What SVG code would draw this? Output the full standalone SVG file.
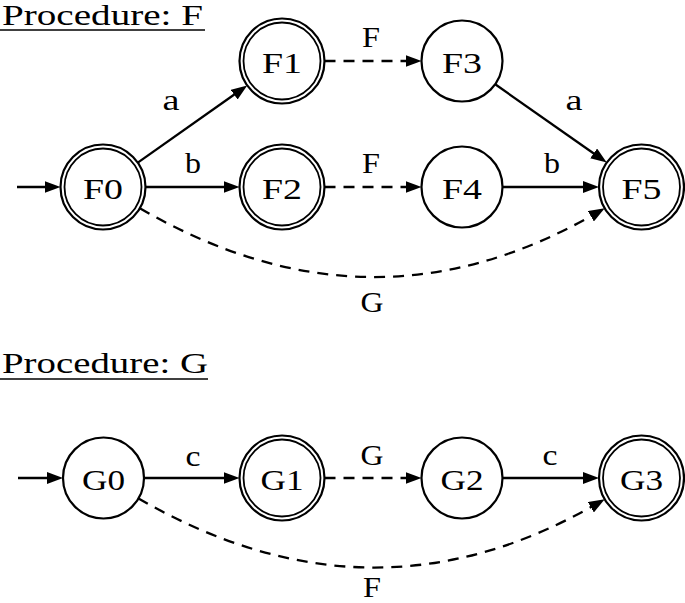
<svg xmlns="http://www.w3.org/2000/svg" width="685" height="603" viewBox="0 0 685 603">
<defs>
<marker id="ah" markerUnits="userSpaceOnUse" markerWidth="16" markerHeight="12" viewBox="0 0 16 12" refX="8" refY="6" orient="auto"><path d="M0,0 L16,6 L0,12 z" fill="#000" stroke="none"/></marker>
<style>
.t{font-family:"Liberation Serif","DejaVu Serif",serif;font-size:29px;fill:#000;text-anchor:middle}
.title{text-anchor:start}
.c{fill:#fff;stroke:#000;stroke-width:2.2}
.d{fill:none;stroke:#000;stroke-width:1.8}
.e{fill:none;stroke:#000;stroke-width:2.3;marker-end:url(#ah)}
.dash{stroke-dasharray:11 8}
.ul{stroke:#000;stroke-width:1.6}
</style>
</defs>
<rect width="685" height="603" fill="#fff"/>

<g id="title-F">
<text class="t title" x="2" y="25" textLength="201" lengthAdjust="spacingAndGlyphs">Procedure: F</text>
<line class="ul" x1="0" y1="30" x2="205" y2="30"/>
</g>
<g id="title-G">
<text class="t title" x="2" y="373" textLength="206" lengthAdjust="spacingAndGlyphs">Procedure: G</text>
<line class="ul" x1="0" y1="379" x2="208" y2="379"/>
</g>

<g id="connectors">
<line class="e" x1="17" y1="187" x2="52.5" y2="187"/>
<line class="e" x1="137.8" y1="162.6" x2="240.7" y2="90"/>
<line class="e" x1="145.5" y1="187" x2="231.5" y2="187"/>
<line class="e dash" x1="324.5" y1="61" x2="413.5" y2="61"/>
<line class="e dash" x1="324.5" y1="187" x2="413.5" y2="187"/>
<line class="e" x1="495.2" y1="84.3" x2="600.2" y2="158"/>
<line class="e" x1="502.5" y1="187" x2="591" y2="187"/>
<path class="e dash" d="M139.8,208.25 C294,297.25 443.6,301.25 597.8,212.3"/>

<line class="e" x1="18" y1="478" x2="55" y2="478"/>
<line class="e" x1="144" y1="478" x2="231.5" y2="478"/>
<line class="e dash" x1="324.5" y1="478" x2="413.5" y2="478"/>
<line class="e" x1="502.5" y1="478" x2="591" y2="478"/>
<path class="e dash" d="M138.1,498.25 C292.3,587.25 443.6,592.25 597.8,503.25"/>
</g>

<g id="edge-labels">
<text class="t" x="171" y="110" textLength="17" lengthAdjust="spacingAndGlyphs">a</text>
<text class="t" x="193" y="173" textLength="16" lengthAdjust="spacingAndGlyphs">b</text>
<text class="t" x="371" y="47" textLength="18" lengthAdjust="spacingAndGlyphs">F</text>
<text class="t" x="371" y="173" textLength="18" lengthAdjust="spacingAndGlyphs">F</text>
<text class="t" x="574" y="110" textLength="17" lengthAdjust="spacingAndGlyphs">a</text>
<text class="t" x="552" y="173" textLength="16" lengthAdjust="spacingAndGlyphs">b</text>
<text class="t" x="372" y="312" textLength="23" lengthAdjust="spacingAndGlyphs">G</text>
<text class="t" x="193" y="466" textLength="15" lengthAdjust="spacingAndGlyphs">c</text>
<text class="t" x="372" y="465" textLength="23" lengthAdjust="spacingAndGlyphs">G</text>
<text class="t" x="550" y="465" textLength="15" lengthAdjust="spacingAndGlyphs">c</text>
<text class="t" x="372" y="597" textLength="18" lengthAdjust="spacingAndGlyphs">F</text>
</g>

<g id="F0"><circle class="c" cx="103" cy="187" r="42.5"/><circle class="d" cx="103" cy="187" r="38.5"/><text class="t" x="103" y="198.5" textLength="40" lengthAdjust="spacingAndGlyphs">F0</text></g>
<g id="F1"><circle class="c" cx="282" cy="61" r="42.5"/><circle class="d" cx="282" cy="61" r="38.5"/><text class="t" x="282" y="72.5" textLength="40" lengthAdjust="spacingAndGlyphs">F1</text></g>
<g id="F2"><circle class="c" cx="282" cy="187" r="42.5"/><circle class="d" cx="282" cy="187" r="38.5"/><text class="t" x="282" y="198.5" textLength="40" lengthAdjust="spacingAndGlyphs">F2</text></g>
<g id="F3"><circle class="c" cx="462" cy="61" r="40.5"/><text class="t" x="462" y="72.5" textLength="40" lengthAdjust="spacingAndGlyphs">F3</text></g>
<g id="F4"><circle class="c" cx="462" cy="187" r="40.5"/><text class="t" x="462" y="198.5" textLength="40" lengthAdjust="spacingAndGlyphs">F4</text></g>
<g id="F5"><circle class="c" cx="641.5" cy="187" r="42.5"/><circle class="d" cx="641.5" cy="187" r="38.5"/><text class="t" x="641.5" y="198.5" textLength="40" lengthAdjust="spacingAndGlyphs">F5</text></g>

<g id="G0"><circle class="c" cx="103.5" cy="478" r="40.5"/><text class="t" x="103.5" y="489.5" textLength="43" lengthAdjust="spacingAndGlyphs">G0</text></g>
<g id="G1"><circle class="c" cx="282" cy="478" r="42.5"/><circle class="d" cx="282" cy="478" r="38.5"/><text class="t" x="282" y="489.5" textLength="43" lengthAdjust="spacingAndGlyphs">G1</text></g>
<g id="G2"><circle class="c" cx="462" cy="478" r="40.5"/><text class="t" x="462" y="489.5" textLength="43" lengthAdjust="spacingAndGlyphs">G2</text></g>
<g id="G3"><circle class="c" cx="641.5" cy="478" r="42.5"/><circle class="d" cx="641.5" cy="478" r="38.5"/><text class="t" x="641.5" y="489.5" textLength="43" lengthAdjust="spacingAndGlyphs">G3</text></g>
</svg>
